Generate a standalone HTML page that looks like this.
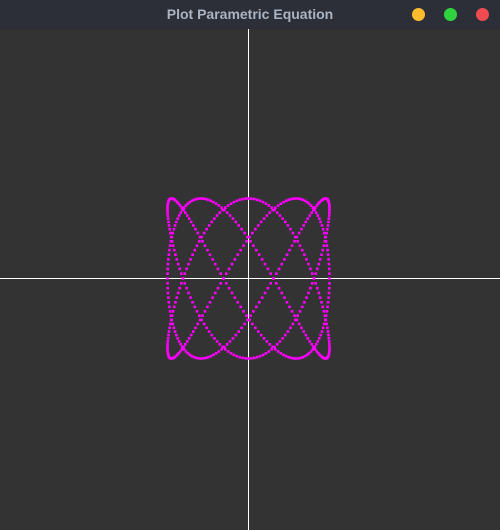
<!DOCTYPE html>
<html><head><meta charset="utf-8"><style>
html,body{margin:0;padding:0;width:500px;height:530px;overflow:hidden;background:#333;}
#bar{position:absolute;left:0;top:0;width:500px;height:29px;background:#2d2f38;}
#title{position:absolute;left:0;width:500px;top:6px;text-align:center;font:bold 14px "Liberation Sans",sans-serif;color:#aab4c2;}
.dot{position:absolute;top:8px;width:13px;height:13px;border-radius:50%;}
svg{position:absolute;left:0;top:29px;}
</style></head><body>
<div id="bar">
<div id="title">Plot Parametric Equation</div>
<div class="dot" style="left:412px;background:#fdbc2e"></div>
<div class="dot" style="left:444px;background:#2ed33e"></div>
<div class="dot" style="left:476px;background:#f04b50"></div>
</div>
<svg id="plot" width="500" height="501">
<line x1="248.5" y1="0" x2="248.5" y2="501" stroke="#fff" stroke-width="1"/>
<line x1="0" y1="249.5" x2="500" y2="249.5" stroke="#fff" stroke-width="1"/>
<g id="curve"></g>
</svg>
<script>
const freqX = [3];
const freqY = [5];
const phaseX = [-0.3*Math.PI];
const ampX = [81];
const ampY = [80];
const samples = [520];
const ns="http://www.w3.org/2000/svg";
const cx=248.5, cy=249.5;
function sx(v){return cx+v;}
function sy(v){return cy-v;}
const g=document.getElementById('curve');
for(let i=0;i<samples[0];i++){
  const t=i/samples[0]*2*Math.PI;
  const x=ampX[0]*Math.sin(freqX[0]*t+phaseX[0]);
  const y=ampY[0]*Math.sin(freqY[0]*t);
  const r=document.createElementNS(ns,'rect');
  r.setAttribute('x',sx(x)-1.3);r.setAttribute('y',sy(y)-1.3);
  r.setAttribute('width',2.6);r.setAttribute('height',2.6);
  r.setAttribute('fill','#ff00ff');
  
  
  g.appendChild(r);
}
</script>
</body></html>
